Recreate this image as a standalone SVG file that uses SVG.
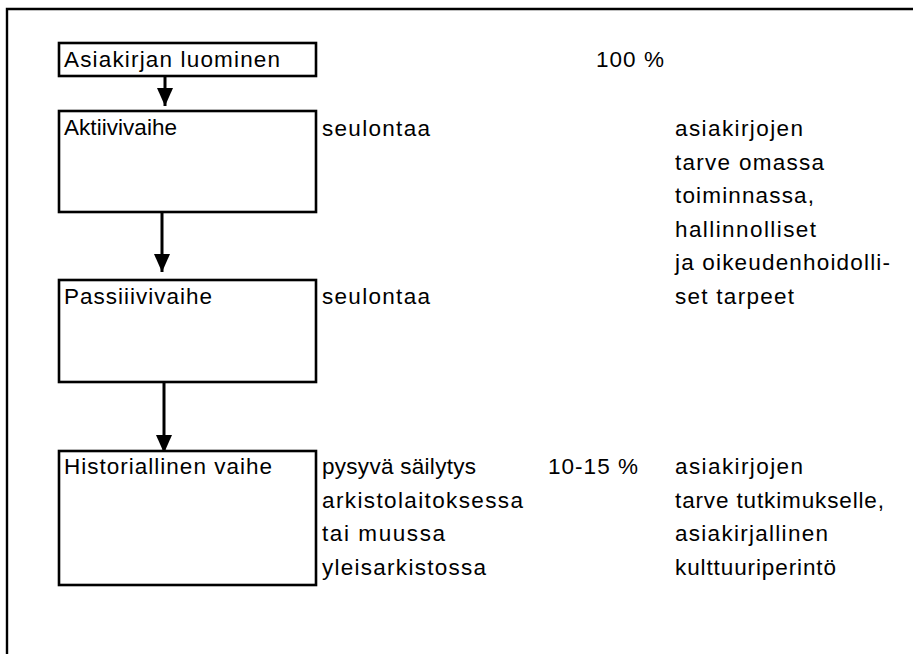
<svg xmlns="http://www.w3.org/2000/svg" width="913" height="654" viewBox="0 0 913 654">
<style>
.box{fill:#fff;stroke:#000;stroke-width:2.6}
.t{font-family:"Liberation Sans",Arial,sans-serif;font-size:22.5px;fill:#000}
.c{stroke:#000;stroke-width:3;fill:none}
.frame{stroke:#000;stroke-width:2.4;fill:none}
</style>
<defs>
<marker id="ah" markerUnits="userSpaceOnUse" markerWidth="18" markerHeight="17" refX="18" refY="8" orient="auto">
<path d="M0,0 L18,8 L0,16 Z" fill="#000"/>
</marker>
</defs>
<rect width="913" height="654" fill="#fff"/>
<path class="frame" d="M7,654 L7,9 L913,9"/>
<g id="connectors">
<line class="c" x1="165" y1="77" x2="165" y2="106" marker-end="url(#ah)"/>
<line class="c" x1="162" y1="213" x2="162" y2="272" marker-end="url(#ah)"/>
<line class="c" x1="164" y1="383" x2="164" y2="453" marker-end="url(#ah)"/>
</g>
<g id="n1">
<rect class="box" x="59" y="43" width="257" height="33"/>
<text class="t" x="64" y="67" textLength="216" lengthAdjust="spacing">Asiakirjan luominen</text>
</g>
<g id="n2">
<rect class="box" x="59" y="111" width="257" height="101"/>
<text class="t" x="64" y="135" textLength="113" lengthAdjust="spacing">Aktiivivaihe</text>
</g>
<g id="n3">
<rect class="box" x="59" y="280" width="257" height="102"/>
<text class="t" x="64" y="304" textLength="148" lengthAdjust="spacing">Passiiivivaihe</text>
</g>
<g id="n4">
<rect class="box" x="59" y="451" width="257" height="134"/>
<text class="t" x="64" y="474" textLength="208" lengthAdjust="spacing">Historiallinen vaihe</text>
</g>
<g id="labels">
<text class="t" x="596" y="67" textLength="68" lengthAdjust="spacing">100 %</text>
<text class="t" x="322" y="136" textLength="108" lengthAdjust="spacing">seulontaa</text>
<text class="t" x="322" y="304" textLength="108" lengthAdjust="spacing">seulontaa</text>
<text class="t" x="675" y="136" textLength="128" lengthAdjust="spacing">asiakirjojen</text>
<text class="t" x="675" y="169.6" textLength="149" lengthAdjust="spacing">tarve omassa</text>
<text class="t" x="675" y="203.2" textLength="139" lengthAdjust="spacing">toiminnassa,</text>
<text class="t" x="675" y="236.8" textLength="141" lengthAdjust="spacing">hallinnolliset</text>
<text class="t" x="675" y="270.4" textLength="215" lengthAdjust="spacing">ja oikeudenhoidolli-</text>
<text class="t" x="675" y="304" textLength="119" lengthAdjust="spacing">set tarpeet</text>
<text class="t" x="322" y="474" textLength="154" lengthAdjust="spacing">pysyvä säilytys</text>
<text class="t" x="322" y="507.6" textLength="201" lengthAdjust="spacing">arkistolaitoksessa</text>
<text class="t" x="322" y="541.2" textLength="123" lengthAdjust="spacing">tai muussa</text>
<text class="t" x="322" y="574.8" textLength="164" lengthAdjust="spacing">yleisarkistossa</text>
<text class="t" x="548" y="474" textLength="90" lengthAdjust="spacing">10-15 %</text>
<text class="t" x="675" y="474" textLength="128" lengthAdjust="spacing">asiakirjojen</text>
<text class="t" x="675" y="507.6" textLength="209" lengthAdjust="spacing">tarve tutkimukselle,</text>
<text class="t" x="675" y="541.2" textLength="153" lengthAdjust="spacing">asiakirjallinen</text>
<text class="t" x="675" y="574.8" textLength="161" lengthAdjust="spacing">kulttuuriperintö</text>
</g>
</svg>
